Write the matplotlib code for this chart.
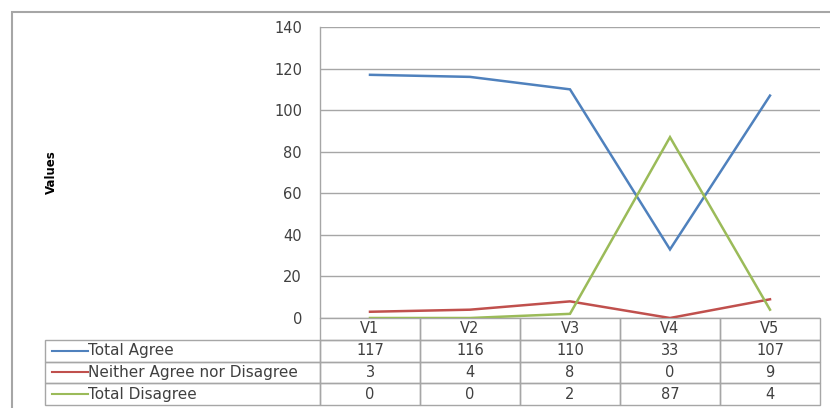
import matplotlib
matplotlib.use("Agg")
import matplotlib.pyplot as plt
from matplotlib.patches import Rectangle

categories = ["V1", "V2", "V3", "V4", "V5"]
series_names = ["Total Agree", "Neither Agree nor Disagree", "Total Disagree"]
total_agree = [117, 116, 110, 33, 107]
neither = [3, 4, 8, 0, 9]
total_disagree = [0, 0, 2, 87, 4]
series_values = [total_agree, neither, total_disagree]
series_colors = ["#4F81BD", "#C0504D", "#9BBB59"]
y_ticks = [0, 20, 40, 60, 80, 100, 120, 140]

W, H = 830, 408
TEXT = "#404040"
EDGE = "#A6A6A6"

fig = plt.figure(figsize=(W / 100, H / 100), dpi=100)
fig.patch.set_facecolor("white")

# plot area in pixel terms
px_l, px_r, px_t, px_b = 320, 820, 27, 318
ax = fig.add_axes([px_l / W, 1 - px_b / H, (px_r - px_l) / W, (px_b - px_t) / H])
aw, ah = px_r - px_l, px_b - px_t

x = list(range(len(categories)))
for vals, col in zip(series_values, series_colors):
    ax.plot(x, vals, color=col, lw=1.8, solid_joinstyle="miter", zorder=3)

ax.set_xlim(-0.5, len(categories) - 0.5)
ax.set_ylim(0, 140)
ax.set_yticks(y_ticks)
ax.set_xticks([])
ax.grid(axis="y", color=EDGE, lw=1)
ax.set_axisbelow(True)
for s in ["top", "right", "bottom"]:
    ax.spines[s].set_visible(False)
ax.spines["left"].set_color(EDGE)
ax.spines["left"].set_linewidth(1)
ax.tick_params(axis="y", length=0, pad=13, labelsize=10.5, labelcolor=TEXT)

ax.set_ylabel("Values", fontsize=8.5, fontweight="bold", color="black")
ax.yaxis.set_label_coords((58 - px_l) / aw, 0.5)


def ax_x(px):
    return (px - px_l) / aw


def ax_y(px):
    return (px_b - px) / ah


def cell(x0, x1, y0, y1, text="", size=10.5):
    ax.add_patch(Rectangle((ax_x(x0), ax_y(y1)), ax_x(x1) - ax_x(x0),
                           ax_y(y0) - ax_y(y1), transform=ax.transAxes,
                           fill=False, ec=EDGE, lw=1, clip_on=False))
    if text:
        ax.text(ax_x((x0 + x1) / 2), ax_y((y0 + y1) / 2), text,
                transform=ax.transAxes, ha="center", va="center",
                fontsize=size, color=TEXT, clip_on=False)


# data table below the plot
tbl_left, row_h = 45, 21.75
col_w = (px_r - px_l) / len(categories)
for j, c in enumerate(categories):
    cell(px_l + j * col_w, px_l + (j + 1) * col_w, px_b, px_b + row_h, c)
for i, (name, col, vals) in enumerate(zip(series_names, series_colors,
                                          series_values), start=1):
    y0, y1 = px_b + i * row_h, px_b + (i + 1) * row_h
    cell(tbl_left, px_l, y0, y1)
    for j, v in enumerate(vals):
        cell(px_l + j * col_w, px_l + (j + 1) * col_w, y0, y1, str(v))
    yc = ax_y((y0 + y1) / 2)
    ax.plot([ax_x(52), ax_x(88)], [yc, yc], color=col, lw=1.5,
            transform=ax.transAxes, clip_on=False)
    ax.text(ax_x(88), yc, name, transform=ax.transAxes, ha="left",
            va="center", fontsize=11, color=TEXT, clip_on=False)

# chart frame
fig.patches.append(Rectangle((12 / W, -0.1), 1.0, 1.1 - 12 / H,
                             transform=fig.transFigure, fill=False,
                             ec=EDGE, lw=1.5))

fig.savefig("out.png", dpi=100)
